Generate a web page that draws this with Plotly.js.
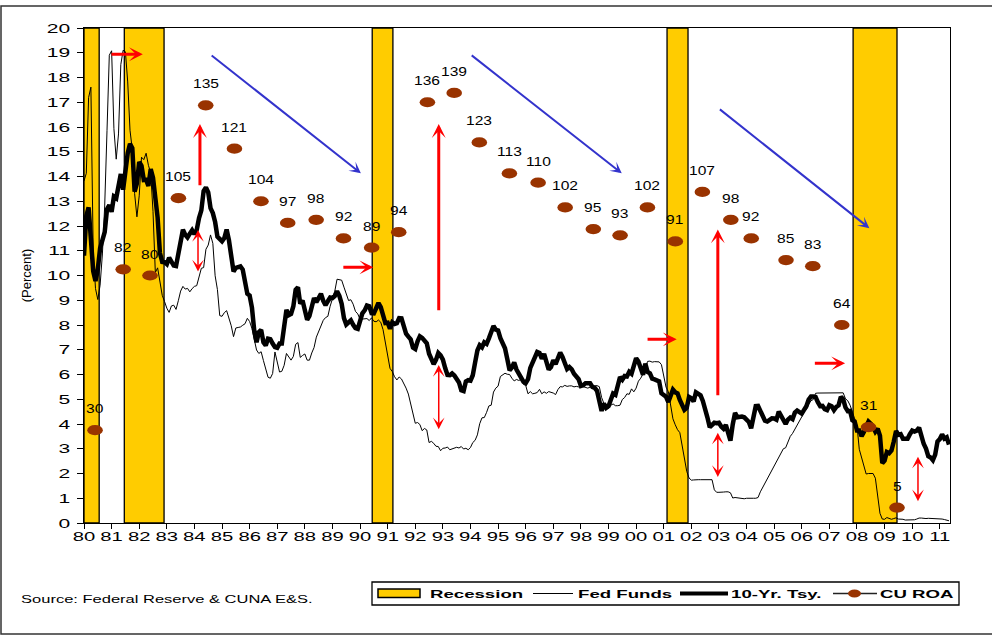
<!DOCTYPE html>
<html>
<head>
<meta charset="utf-8">
<script src="https://cdn.plot.ly/plotly-3.0.1.min.js"></script>
<style>html,body{margin:0;padding:0;background:#fff;}</style>
</head>
<body>
<div id="chart" style="width:992px;height:644px;"></div>
<script>
// Monthly averages, January 1980 through May 2011
const startYear = 1980;
const fedFunds = [
  13.82,14.13,17.19,17.61,10.98,9.47,9.03,9.61,10.87,12.81,15.85,18.90,
  19.08,15.93,14.70,15.72,18.52,19.10,19.04,17.82,15.87,15.08,13.31,12.37,
  13.22,14.78,14.68,14.94,14.45,14.15,12.59,10.12,10.31,9.71,9.20,8.95,
  8.68,8.51,8.77,8.80,8.63,8.98,9.37,9.56,9.45,9.48,9.34,9.47,
  9.56,9.59,9.91,10.29,10.32,11.06,11.23,11.64,11.30,9.99,9.43,8.38,
  8.35,8.50,8.58,8.27,7.97,7.53,7.88,7.90,7.92,7.99,8.05,8.27,
  8.14,7.86,7.48,6.99,6.85,6.92,6.56,6.17,5.89,5.85,6.04,6.91,
  6.43,6.10,6.13,6.37,6.85,6.73,6.58,6.73,7.22,7.29,6.69,6.77,
  6.83,6.58,6.58,6.87,7.09,7.51,7.75,8.01,8.19,8.30,8.35,8.76,
  9.12,9.36,9.85,9.84,9.81,9.53,9.24,8.99,9.02,8.84,8.55,8.45,
  8.23,8.24,8.28,8.26,8.18,8.29,8.15,8.13,8.20,8.11,7.81,7.31,
  6.91,6.25,6.12,5.91,5.78,5.90,5.82,5.66,5.45,5.21,4.81,4.43,
  4.03,4.06,3.98,3.73,3.82,3.76,3.25,3.30,3.22,3.10,3.09,2.92,
  3.02,3.03,3.07,2.96,3.00,3.04,3.06,3.03,3.09,2.99,3.02,2.96,
  3.05,3.25,3.34,3.56,4.01,4.25,4.26,4.47,4.73,4.76,5.29,5.45,
  5.53,5.92,5.98,6.05,6.01,6.00,5.85,5.74,5.80,5.76,5.80,5.60,
  5.56,5.22,5.31,5.22,5.24,5.27,5.40,5.22,5.30,5.24,5.31,5.29,
  5.25,5.19,5.39,5.51,5.50,5.56,5.52,5.54,5.54,5.50,5.52,5.50,
  5.56,5.51,5.49,5.45,5.49,5.56,5.54,5.55,5.51,5.07,4.83,4.68,
  4.63,4.76,4.81,4.74,4.74,4.76,4.99,5.07,5.22,5.20,5.42,5.30,
  5.45,5.73,5.85,6.02,6.27,6.53,6.54,6.50,6.52,6.51,6.51,6.40,
  5.98,5.49,5.31,4.80,4.21,3.97,3.77,3.65,3.07,2.49,2.09,1.82,
  1.73,1.74,1.73,1.75,1.75,1.75,1.73,1.74,1.75,1.75,1.34,1.24,
  1.24,1.26,1.25,1.26,1.26,1.22,1.01,1.03,1.01,1.01,1.00,0.98,
  1.00,1.01,1.00,1.00,1.00,1.03,1.26,1.43,1.61,1.76,1.93,2.16,
  2.28,2.50,2.63,2.79,3.00,3.04,3.26,3.50,3.62,3.78,4.00,4.16,
  4.29,4.49,4.59,4.79,4.94,4.99,5.24,5.25,5.25,5.25,5.25,5.24,
  5.25,5.26,5.26,5.25,5.25,5.25,5.26,5.02,4.94,4.76,4.49,4.24,
  3.94,2.98,2.61,2.28,1.98,2.00,2.01,2.00,1.81,0.97,0.39,0.16,
  0.15,0.22,0.18,0.15,0.18,0.21,0.16,0.16,0.15,0.12,0.12,0.12,
  0.11,0.13,0.16,0.20,0.20,0.18,0.18,0.19,0.19,0.19,0.19,0.18,
  0.17,0.16,0.14,0.10,0.09
];
const tenYearTsy = [
  10.80,12.41,12.75,11.47,10.18,9.78,10.25,11.10,11.51,11.75,12.68,12.84,
  12.57,13.19,13.12,13.68,14.10,13.47,14.28,14.94,15.32,15.15,13.39,13.72,
  14.59,14.43,13.86,13.87,13.62,14.30,13.95,13.06,12.34,10.91,10.55,10.54,
  10.46,10.72,10.51,10.40,10.38,10.85,11.38,11.85,11.65,11.54,11.69,11.83,
  11.67,11.84,12.32,12.63,13.41,13.56,13.36,12.72,12.52,12.16,11.57,11.50,
  11.38,11.51,11.86,11.43,10.85,10.16,10.31,10.33,10.37,10.24,9.78,9.26,
  9.19,8.70,7.78,7.30,7.71,7.80,7.30,7.17,7.45,7.43,7.25,7.11,
  7.08,7.25,7.25,8.02,8.61,8.40,8.45,8.76,9.42,9.52,8.86,8.99,
  8.67,8.21,8.37,8.72,9.09,8.92,9.06,9.26,8.98,8.80,8.96,9.11,
  9.09,9.17,9.36,9.18,8.86,8.28,8.02,8.11,8.19,8.01,7.87,7.84,
  8.21,8.47,8.59,8.79,8.76,8.48,8.47,8.75,8.89,8.72,8.39,8.08,
  8.09,7.85,8.11,8.04,8.07,8.28,8.27,7.90,7.65,7.53,7.42,7.09,
  7.03,7.34,7.54,7.48,7.39,7.26,6.84,6.59,6.42,6.59,6.87,6.77,
  6.60,6.26,5.98,5.97,6.04,5.96,5.81,5.68,5.36,5.33,5.72,5.77,
  5.75,5.97,6.48,6.97,7.18,7.10,7.30,7.24,7.46,7.74,7.96,7.81,
  7.78,7.47,7.20,7.06,6.63,6.17,6.28,6.49,6.20,6.04,5.93,5.71,
  5.65,5.81,6.27,6.51,6.74,6.91,6.87,6.64,6.83,6.53,6.20,6.30,
  6.58,6.42,6.69,6.89,6.71,6.49,6.22,6.30,6.21,6.03,5.88,5.81,
  5.54,5.57,5.65,5.64,5.65,5.50,5.46,5.34,4.81,4.53,4.83,4.65,
  4.72,5.00,5.23,5.18,5.54,5.90,5.79,5.94,5.92,6.11,6.03,6.28,
  6.66,6.52,6.26,5.99,6.44,6.10,6.05,5.83,5.80,5.74,5.72,5.24,
  5.16,5.10,4.89,5.14,5.39,5.28,5.24,4.97,4.73,4.57,4.65,5.09,
  5.04,4.91,5.28,5.21,5.16,4.93,4.65,4.26,3.87,3.94,4.05,4.03,
  4.05,3.90,3.81,3.96,3.57,3.33,3.98,4.45,4.27,4.29,4.30,4.27,
  4.15,4.08,3.83,4.35,4.72,4.73,4.50,4.28,4.13,4.10,4.19,4.23,
  4.22,4.17,4.50,4.34,4.14,4.00,4.18,4.26,4.20,4.46,4.54,4.47,
  4.42,4.57,4.72,4.99,5.11,5.11,5.09,4.88,4.72,4.73,4.60,4.56,
  4.76,4.72,4.56,4.69,4.75,5.10,5.00,4.67,4.52,4.53,4.15,4.10,
  3.74,3.74,3.51,3.68,3.88,4.10,4.01,3.89,3.69,3.81,3.53,2.42,
  2.52,2.87,2.82,2.93,3.29,3.72,3.56,3.59,3.40,3.39,3.40,3.59,
  3.73,3.69,3.73,3.85,3.42,3.20,3.01,2.70,2.65,2.54,2.76,3.29,
  3.39,3.58,3.41,3.46,3.17
];

// Credit union return on assets (basis points), one reading per year
const roaYear = [1980.40,1981.42,1982.39,1983.42,1984.41,1985.45,1986.41,1987.38,1988.41,1989.40,
                 1990.42,1991.40,1992.44,1993.41,1994.32,1995.41,1996.45,1997.43,1998.45,1999.42,
                 2000.41,2001.42,2002.40,2003.43,2004.17,2005.43,2006.40,2007.45,2008.42,2009.45];
const roaBp = [30,82,80,105,135,121,104,97,98,92,
               89,94,136,139,123,113,110,102,95,93,
               102,91,107,98,92,85,83,64,31,5];

// Recession periods (start, end) in fractional years
const recessionStart = [1980.00,1981.46,1990.44,2001.12,2007.86];
const recessionEnd   = [1980.55,1982.90,1991.19,2001.88,2009.45];

// Year axis ticks and their two-digit labels
const yearTicks = [];
for (let y = 1980; y <= 2011; y++) yearTicks.push(y);
const yearTickText = yearTicks.map(y => String(y % 100).padStart(2, '0'));

// Commentary arrows: [fromX, fromY, toX, toY]
const redArrowsThick = [
  [1980.94,18.94,1982.13,18.94],
  [1984.20,13.59,1984.20,16.12],
  [1989.34,10.33,1990.48,10.33],
  [1992.85,8.54,1992.85,16.12],
  [2000.36,7.42,2001.47,7.42],
  [2002.96,5.10,2002.96,11.86],
  [2006.42,6.45,2007.57,6.45]
];
const redArrowsDouble = [
  [1984.13,10.10,1984.13,11.84],
  [1992.85,3.73,1992.85,6.38],
  [2002.96,1.80,2002.96,3.65],
  [2010.21,0.82,2010.21,2.68]
];
const blueArrows = [
  [1984.57,18.94,1990.03,14.13],
  [1993.99,18.94,1999.48,14.13],
  [2002.98,16.76,2008.45,11.91]
];

const monthX = n => Array.from({length: n}, (_, i) => startYear + i / 12);

const FONT = 'Arial, "Liberation Sans", sans-serif';
const GOLD = '#FFCC00';
const BROWN = '#993300';

// plot-area geometry, used to place the legend block in paper units
const PL = 84, PR = 950, PT = 28, PB = 523;
const xp = px => (px - PL) / (PR - PL);
const yp = py => (PB - py) / (PB - PT);

const traces = [
  {
    x: monthX(fedFunds.length), y: fedFunds, type: 'scatter', mode: 'lines',
    name: 'Fed Funds', line: {color: '#000', width: 1}, hoverinfo: 'skip'
  },
  {
    x: monthX(tenYearTsy.length), y: tenYearTsy, type: 'scatter', mode: 'lines',
    name: '10-Yr. Tsy.', line: {color: '#000', width: 4.5}, hoverinfo: 'skip'
  },
  {
    x: roaYear, y: roaBp, type: 'scatter', mode: 'markers', yaxis: 'y2',
    name: 'CU ROA', marker: {color: BROWN, size: 12, line: {width: 0}},
    cliponaxis: false, hoverinfo: 'skip'
  }
];

const shapes = [];
// recession shading
recessionStart.forEach((s, i) => {
  shapes.push({
    type: 'rect', xref: 'x', yref: 'paper', x0: s, x1: recessionEnd[i], y0: 0, y1: 1,
    fillcolor: GOLD, line: {color: '#000', width: 1.3}, layer: 'below'
  });
});

// outer frame
shapes.push({type: 'rect', xref: 'paper', yref: 'paper',
  x0: xp(1), x1: xp(1010), y0: yp(634), y1: yp(6),
  line: {color: '#333', width: 1.5}, fillcolor: 'rgba(0,0,0,0)', layer: 'above'});

// legend block
shapes.push({type: 'rect', xref: 'paper', yref: 'paper',
  x0: xp(372), x1: xp(959), y0: yp(605), y1: yp(582),
  line: {color: '#000', width: 1.3}, fillcolor: '#fff'});
shapes.push({type: 'rect', xref: 'paper', yref: 'paper',
  x0: xp(378), x1: xp(420), y0: yp(597.5), y1: yp(589),
  line: {color: '#000', width: 1.5}, fillcolor: GOLD});
shapes.push({type: 'line', xref: 'paper', yref: 'paper',
  x0: xp(533), x1: xp(573), y0: yp(593.5), y1: yp(593.5),
  line: {color: '#000', width: 1}});
shapes.push({type: 'line', xref: 'paper', yref: 'paper',
  x0: xp(680), x1: xp(728), y0: yp(593.5), y1: yp(593.5),
  line: {color: '#000', width: 4}});
shapes.push({type: 'line', xref: 'paper', yref: 'paper',
  x0: xp(833), x1: xp(877), y0: yp(593.5), y1: yp(593.5),
  line: {color: '#222', width: 1.3}});
shapes.push({type: 'circle', xref: 'paper', yref: 'paper',
  x0: xp(848), x1: xp(861), y0: yp(597.5), y1: yp(589.5),
  line: {width: 0}, fillcolor: BROWN});

const annotations = [];
const stretchSpecs = [];
function addAnn(a, factor, anchor) {
  annotations.push(a);
  stretchSpecs.push(factor ? [factor, anchor] : null);
}

// value labels over the ROA dots
roaYear.forEach((x, i) => {
  addAnn({x: x, y: roaBp[i], xref: 'x', yref: 'y2', text: String(roaBp[i]),
    showarrow: false, yshift: 21, font: {family: FONT, size: 12, color: '#000'}}, 1.3, 'middle');
});

function arrowAnn(a, color, width, size, both) {
  const ann = {
    x: a[2], y: a[3], ax: a[0], ay: a[1], xref: 'x', yref: 'y', axref: 'x', ayref: 'y',
    text: '', showarrow: true, arrowhead: 3, arrowsize: size, arrowwidth: width,
    arrowcolor: color, standoff: 0
  };
  if (both) {
    ann.arrowside = 'end+start';
    ann.startarrowhead = 3;
    ann.startarrowsize = size;
    ann.startstandoff = 0;
  }
  addAnn(ann);
}
redArrowsThick.forEach(a => arrowAnn(a, '#FF0000', 3, 0.77, false));
redArrowsDouble.forEach(a => arrowAnn(a, '#FF0000', 1.5, 1.3, true));
blueArrows.forEach(a => arrowAnn(a, '#3333CC', 2, 0.95, false));

// legend labels
const legendLabels = [['Recession', 429], ['Fed Funds', 577], ['10-Yr. Tsy.', 730], ['CU ROA', 879]];
legendLabels.forEach(([t, px]) => {
  addAnn({x: xp(px), y: yp(593.5), xref: 'paper', yref: 'paper', xanchor: 'left', yanchor: 'middle',
    text: '<b>' + t + '</b>', showarrow: false, borderpad: 0,
    font: {family: FONT, size: 11.5, color: '#000'}}, 1.62, 'start');
});

// source note
addAnn({x: xp(20), y: yp(599), xref: 'paper', yref: 'paper', xanchor: 'left', yanchor: 'middle',
  text: 'Source: Federal Reserve & CUNA E&S.', showarrow: false, borderpad: 0,
  font: {family: FONT, size: 11, color: '#000'}}, 1.5, 'start');

const layout = {
  width: 992, height: 644,
  margin: {l: PL, r: 992 - PR, t: PT, b: 644 - PB},
  paper_bgcolor: '#fff', plot_bgcolor: '#fff',
  showlegend: false,
  font: {family: FONT, color: '#000'},
  xaxis: {
    range: [1980, 2011.37], tickmode: 'array', tickvals: yearTicks, ticktext: yearTickText,
    ticks: 'outside', ticklen: 5, tickwidth: 1, tickcolor: '#000',
    showline: true, linecolor: '#000', linewidth: 1.3, mirror: true,
    showgrid: false, zeroline: false, tickfont: {size: 13.5, family: FONT}, ticklabelstandoff: 0
  },
  yaxis: {
    range: [0, 20], tickmode: 'linear', tick0: 0, dtick: 1,
    ticks: 'outside', ticklen: 6, tickwidth: 1, tickcolor: '#000',
    showline: true, linecolor: '#000', linewidth: 1.3, mirror: true,
    showgrid: false, zeroline: false, tickfont: {size: 13, family: FONT}, ticklabelstandoff: 4,
    title: {text: '(Percent)', font: {size: 13, family: FONT}, standoff: 21}
  },
  yaxis2: {range: [0, 160], overlaying: 'y', side: 'right', visible: false},
  shapes: shapes,
  annotations: annotations
};

// widen text horizontally around an anchor point, with an optional vertical nudge
function stretch(el, s, anchor, dy) {
  const bb = el.getBBox();
  const cx = anchor === 'start' ? bb.x : anchor === 'end' ? bb.x + bb.width : bb.x + bb.width / 2;
  const t = el.getAttribute('transform') || '';
  el.setAttribute('transform', t + ' translate(' + cx + ',' + (dy || 0) + ') scale(' + s + ',1) translate(' + (-cx) + ',0)');
}

const gd = document.getElementById('chart');
Plotly.newPlot(gd, traces, layout, {staticPlot: true, responsive: false}).then(() => {
  gd.querySelectorAll('.xtick text').forEach(el => stretch(el, 1.5, 'middle', -4));
  gd.querySelectorAll('.ytick text').forEach(el => stretch(el, 1.62, 'end'));
  gd.querySelectorAll('g.annotation').forEach(g => {
    const spec = stretchSpecs[+g.getAttribute('data-index')];
    if (!spec) return;
    const t = g.querySelector('text.annotation-text');
    if (t) stretch(t, spec[0], spec[1]);
  });
  // oval dots for the ROA series
  gd.querySelectorAll('.scatterlayer path.point').forEach(p => {
    const t = p.getAttribute('transform') || '';
    p.setAttribute('transform', t + ' scale(1.3,0.85)');
  });
});
</script>
</body>
</html>
